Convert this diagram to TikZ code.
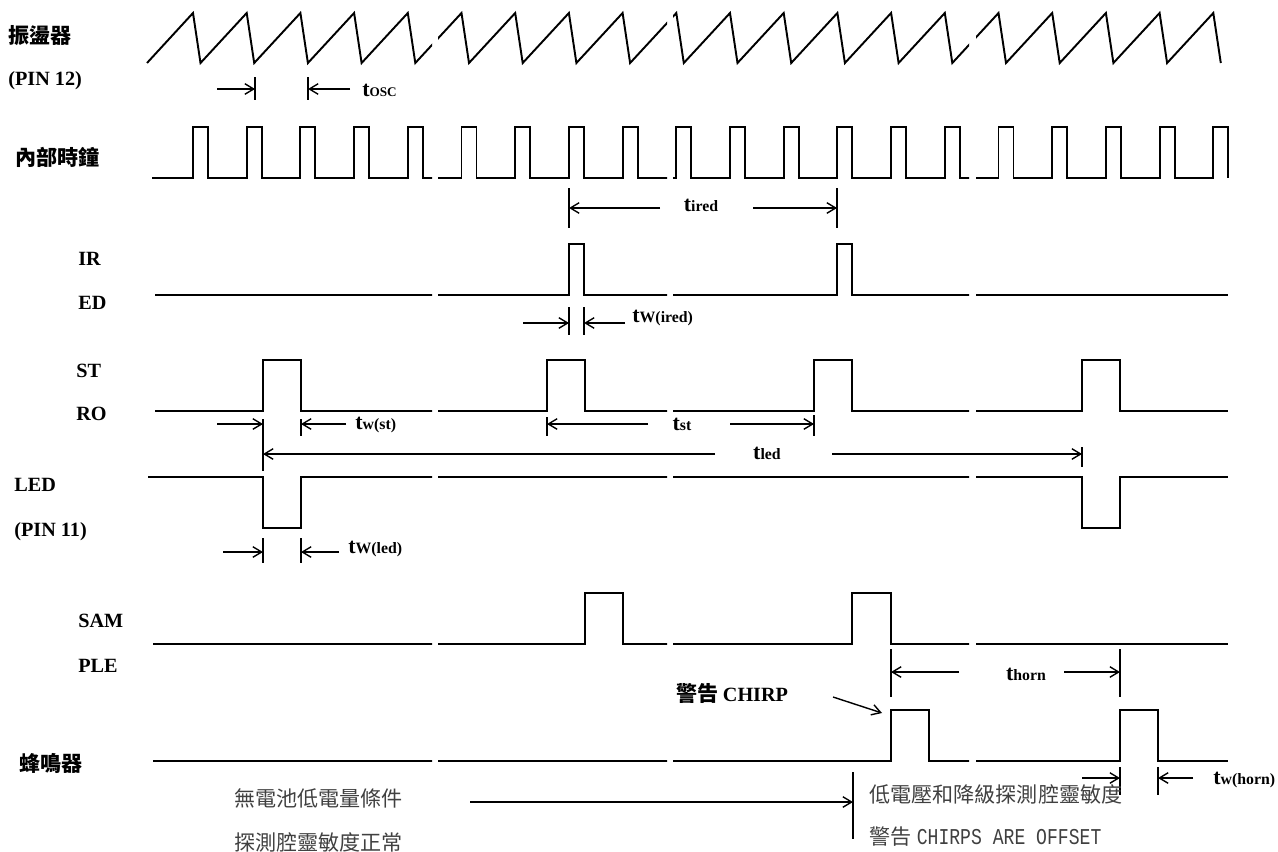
\documentclass[tikz,border=0pt]{standalone}
\usepackage{graphicx}
\usepackage{fontspec}
\setmainfont{Liberation Serif}
\newfontfamily\cjkfont{Noto Sans CJK TC}
\newfontfamily\chirpfont{Liberation Mono}
\usetikzlibrary{arrows.meta}
\def\hipulse(#1:#2:#3){-- (#1,#3) -- (#1,{#3-51}) -- (#2,{#3-51}) -- (#2,#3)}
\def\lopulse(#1:#2:#3){-- (#1,#3) -- (#1,{#3+51}) -- (#2,{#3+51}) -- (#2,#3)}
\newcommand{\tdim}[1]{{\fontsize{12.5}{14}\selectfont t}{\fontsize{9}{10}\selectfont #1}}

\begin{document}
\begin{tikzpicture}[x=0.02cm, y=-0.02cm,
    wave/.style={line width=1.1pt},
    tick/.style={line width=0.8pt},
    dim/.style={line width=0.8pt, -{Straight Barb[length=5pt,width=6pt]}},
    lbl/.style={anchor=west, inner sep=0pt, font=\bfseries\fontsize{11.5}{13}\selectfont},
    cjklbl/.style={anchor=west, inner sep=0pt, font=\cjkfont\bfseries\fontsize{12}{14}\selectfont},
    dimlbl/.style={inner sep=0pt, font=\bfseries},
    note/.style={anchor=west, inner sep=0pt, text=black!75, font=\cjkfont\fontsize{12}{14}\selectfont}]
  \useasboundingbox (0,0) rectangle (1278,852);
  %%%%% SIGNAL NAMES %%%%%
  \node[cjklbl] (osc) at (8,36) {振盪器};
  \node[lbl] (pin12) at (8,81) {(PIN 12)};
  \node[cjklbl] (clk) at (15,157) {內部時鐘};
  \node[lbl] (ir) at (78,259) {IR};
  \node[lbl] (ed) at (78,303) {ED};
  \node[lbl] (st) at (76,371) {ST};
  \node[lbl] (ro) at (76,414) {RO};
  \node[lbl] (led) at (14,485) {LED};
  \node[lbl] (pin11) at (14,532) {(PIN 11)};
  \node[lbl] (sam) at (78,621) {SAM};
  \node[lbl] (ple) at (78,666) {PLE};
  \node[cjklbl] (horn) at (19,763) {蜂鳴器};

  %%%%% WAVEFORMS (broken at the gaps) %%%%%
  \begin{scope}
    \clip (0,0) rectangle (432,852) (438,0) rectangle (667,852)
          (673,0) rectangle (969,852) (976,0) rectangle (1278,852);
    \draw[wave] (147,63) \foreach \n in {0,...,19}{ -- ({193+53.7*\n},13) -- ({200.5+53.7*\n},63)};
    \draw[wave] (152,178) \foreach \n in {0,...,19}{ -- ({193+53.7*\n},178) -- ({193+53.7*\n},127)
                 -- ({208+53.7*\n},127) -- ({208+53.7*\n},178)};
    \draw[wave] (155,295) \hipulse(569:584:295) \hipulse(837:852:295) -- (1228,295);
    \draw[wave] (155,411) \hipulse(263:301:411) \hipulse(547:585:411) \hipulse(814:852:411)
                 \hipulse(1082:1120:411) -- (1228,411);
    \draw[wave] (148,477) \lopulse(263:301:477) \lopulse(1082:1120:477) -- (1228,477);
    \draw[wave] (153,644) \hipulse(585:623:644) \hipulse(852:891:644) -- (1228,644);
    \draw[wave] (153,761) \hipulse(891:929:761) \hipulse(1120:1158:761) -- (1228,761);
  \end{scope}

  %%%%% TIMINGS %%%%%
  % t_osc
  \coordinate (oscA) at (255,89);
  \coordinate (oscB) at (308,89);
  \draw[tick] (255,77) -- (255,100) (308,77) -- (308,100);
  \draw[dim] (217,89) -- (oscA);
  \draw[dim] (350,89) -- (oscB);
  \node[dimlbl, anchor=west] (tosc) at (362,90) {{\fontsize{12.5}{14}\selectfont t}{\fontsize{7.5}{9}\selectfont OSC}};

  % t_ired
  \coordinate (iredA) at (569,208);
  \coordinate (iredB) at (837,208);
  \draw[tick] (569,188) -- (569,228) (837,188) -- (837,228);
  \node[dimlbl] (tired) at (701,205) {\tdim{ired}};
  \draw[dim] (660,208) -- (iredA);
  \draw[dim] (753,208) -- (iredB);

  % t_w(ired)
  \coordinate (wiA) at (569,323);
  \coordinate (wiB) at (584,323);
  \draw[tick] (569,307) -- (569,335) (584,307) -- (584,335);
  \draw[dim] (523,323) -- (wiA);
  \draw[dim] (625,323) -- (wiB);
  \node[dimlbl, anchor=west] (twired) at (632,318) {\tdim{W(ired)}};

  % t_w(st)
  \coordinate (wsA) at (263,424);
  \coordinate (wsB) at (301,424);
  \draw[tick] (263,419) -- (263,471) (301,419) -- (301,436);
  \draw[dim] (217,424) -- (wsA);
  \draw[dim] (346,424) -- (wsB);
  \node[dimlbl, anchor=west] (twst) at (355,425) {\tdim{w(st)}};

  % t_st
  \coordinate (stA) at (547,424);
  \coordinate (stB) at (814,424);
  \draw[tick] (547,417) -- (547,436) (814,415) -- (814,436);
  \node[dimlbl] (tst) at (682,424) {\tdim{st}};
  \draw[dim] (648,424) -- (stA);
  \draw[dim] (730,424) -- (stB);

  % t_led
  \coordinate (ledA) at (263,454);
  \coordinate (ledB) at (1082,454);
  \draw[tick] (1082,447) -- (1082,467);
  \node[dimlbl] (tled) at (767,453) {\tdim{led}};
  \draw[dim] (715,454) -- (ledA);
  \draw[dim] (832,454) -- (ledB);

  % t_w(led)
  \coordinate (wlA) at (263,552);
  \coordinate (wlB) at (301,552);
  \draw[tick] (263,538) -- (263,563) (301,538) -- (301,563);
  \draw[dim] (223,552) -- (wlA);
  \draw[dim] (339,552) -- (wlB);
  \node[dimlbl, anchor=west] (twled) at (348,549) {\tdim{W(led)}};

  % t_horn
  \coordinate (hoA) at (891,672);
  \coordinate (hoB) at (1120,672);
  \draw[tick] (891,649) -- (891,697) (1120,649) -- (1120,697);
  \node[dimlbl] (thorn) at (1026,674) {\tdim{horn}};
  \draw[dim] (959,672) -- (hoA);
  \draw[dim] (1064,672) -- (hoB);

  % warning chirp
  \node[anchor=west, inner sep=0pt] (chirp) at (676,693)
    {{\cjkfont\bfseries\fontsize{12}{14}\selectfont 警告} {\bfseries\fontsize{11.5}{13}\selectfont CHIRP}};
  \coordinate (chirpA) at (833,697);
  \coordinate (chirpB) at (882,713);
  \draw[dim] (chirpA) -- (chirpB);

  % t_w(horn)
  \coordinate (whA) at (1120,778);
  \coordinate (whB) at (1158,778);
  \draw[tick] (1120,767) -- (1120,795) (1158,767) -- (1158,795);
  \draw[dim] (1082,778) -- (whA);
  \draw[dim] (1193,778) -- (whB);
  \node[dimlbl, anchor=west] (twhorn) at (1213,780) {\tdim{w(horn)}};

  %%%%% BATTERY CONDITION %%%%%
  \node[note] (nobat) at (234,798) {無電池低電量條件};
  \node[note] (normal) at (234,842) {探測腔靈敏度正常};
  \coordinate (lowA) at (853,772);
  \coordinate (lowB) at (853,839);
  \draw[tick] (lowA) -- (lowB);
  \draw[dim] (470,802) -- (853,802);
  \node[note] (lowbat) at (869,794) {低電壓和降級探測腔靈敏度};
  \node[note] (offset) at (869,837) {警告\hspace{3pt}\scalebox{1}[1.25]{\chirpfont\fontsize{10.3}{12}\selectfont CHIRPS ARE OFFSET}};
\end{tikzpicture}
\end{document}
